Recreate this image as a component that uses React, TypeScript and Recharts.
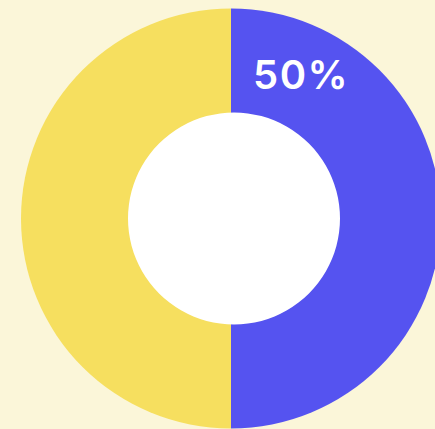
import React from "react";
import { PieChart, Pie, Cell } from "recharts";

const categories = ["Blue", "Yellow"];
const values = [50, 50];
const colors = ["#5553F0", "#F6DF5F"];

const data = categories.map((name, i) => ({ name, value: values[i] }));
const holeData = [{ name: "hole", value: 1 }];

const RAD = Math.PI / 180;

const renderLabel = (props: any) => {
  const { cx, cy, index, value } = props;
  if (index !== 0) return null;
  const angle = 64;
  const r = 160;
  const x = cx + r * Math.cos(angle * RAD);
  const y = cy - r * Math.sin(angle * RAD);
  return (
    <text
      x={x}
      y={y}
      fill="#FFFFFF"
      textAnchor="middle"
      dominantBaseline="central"
      fontFamily="Inter, 'Open Sans', sans-serif"
      fontWeight={600}
      fontSize={40}
      letterSpacing={1.5}
    >
      {`${value}%`}
    </text>
  );
};

export default function App() {
  return (
    <div
      style={{
        position: "absolute",
        left: 0,
        top: 0,
        width: 435,
        height: 429,
        background: "#FBF6D9",
        overflow: "hidden",
      }}
    >
      <PieChart width={435} height={429} margin={{ top: 0, right: 0, bottom: 0, left: 0 }}>
        <Pie
          data={data}
          dataKey="value"
          cx={231}
          cy={218.5}
          innerRadius={0}
          outerRadius={210}
          startAngle={90}
          endAngle={-270}
          stroke="none"
          isAnimationActive={false}
          label={renderLabel}
          labelLine={false}
        >
          {data.map((d, i) => (
            <Cell key={d.name} fill={colors[i]} />
          ))}
        </Pie>
        <Pie
          data={holeData}
          dataKey="value"
          cx={234}
          cy={218.5}
          innerRadius={0}
          outerRadius={106}
          stroke="none"
          fill="#FFFFFF"
          isAnimationActive={false}
        />
      </PieChart>
    </div>
  );
}
